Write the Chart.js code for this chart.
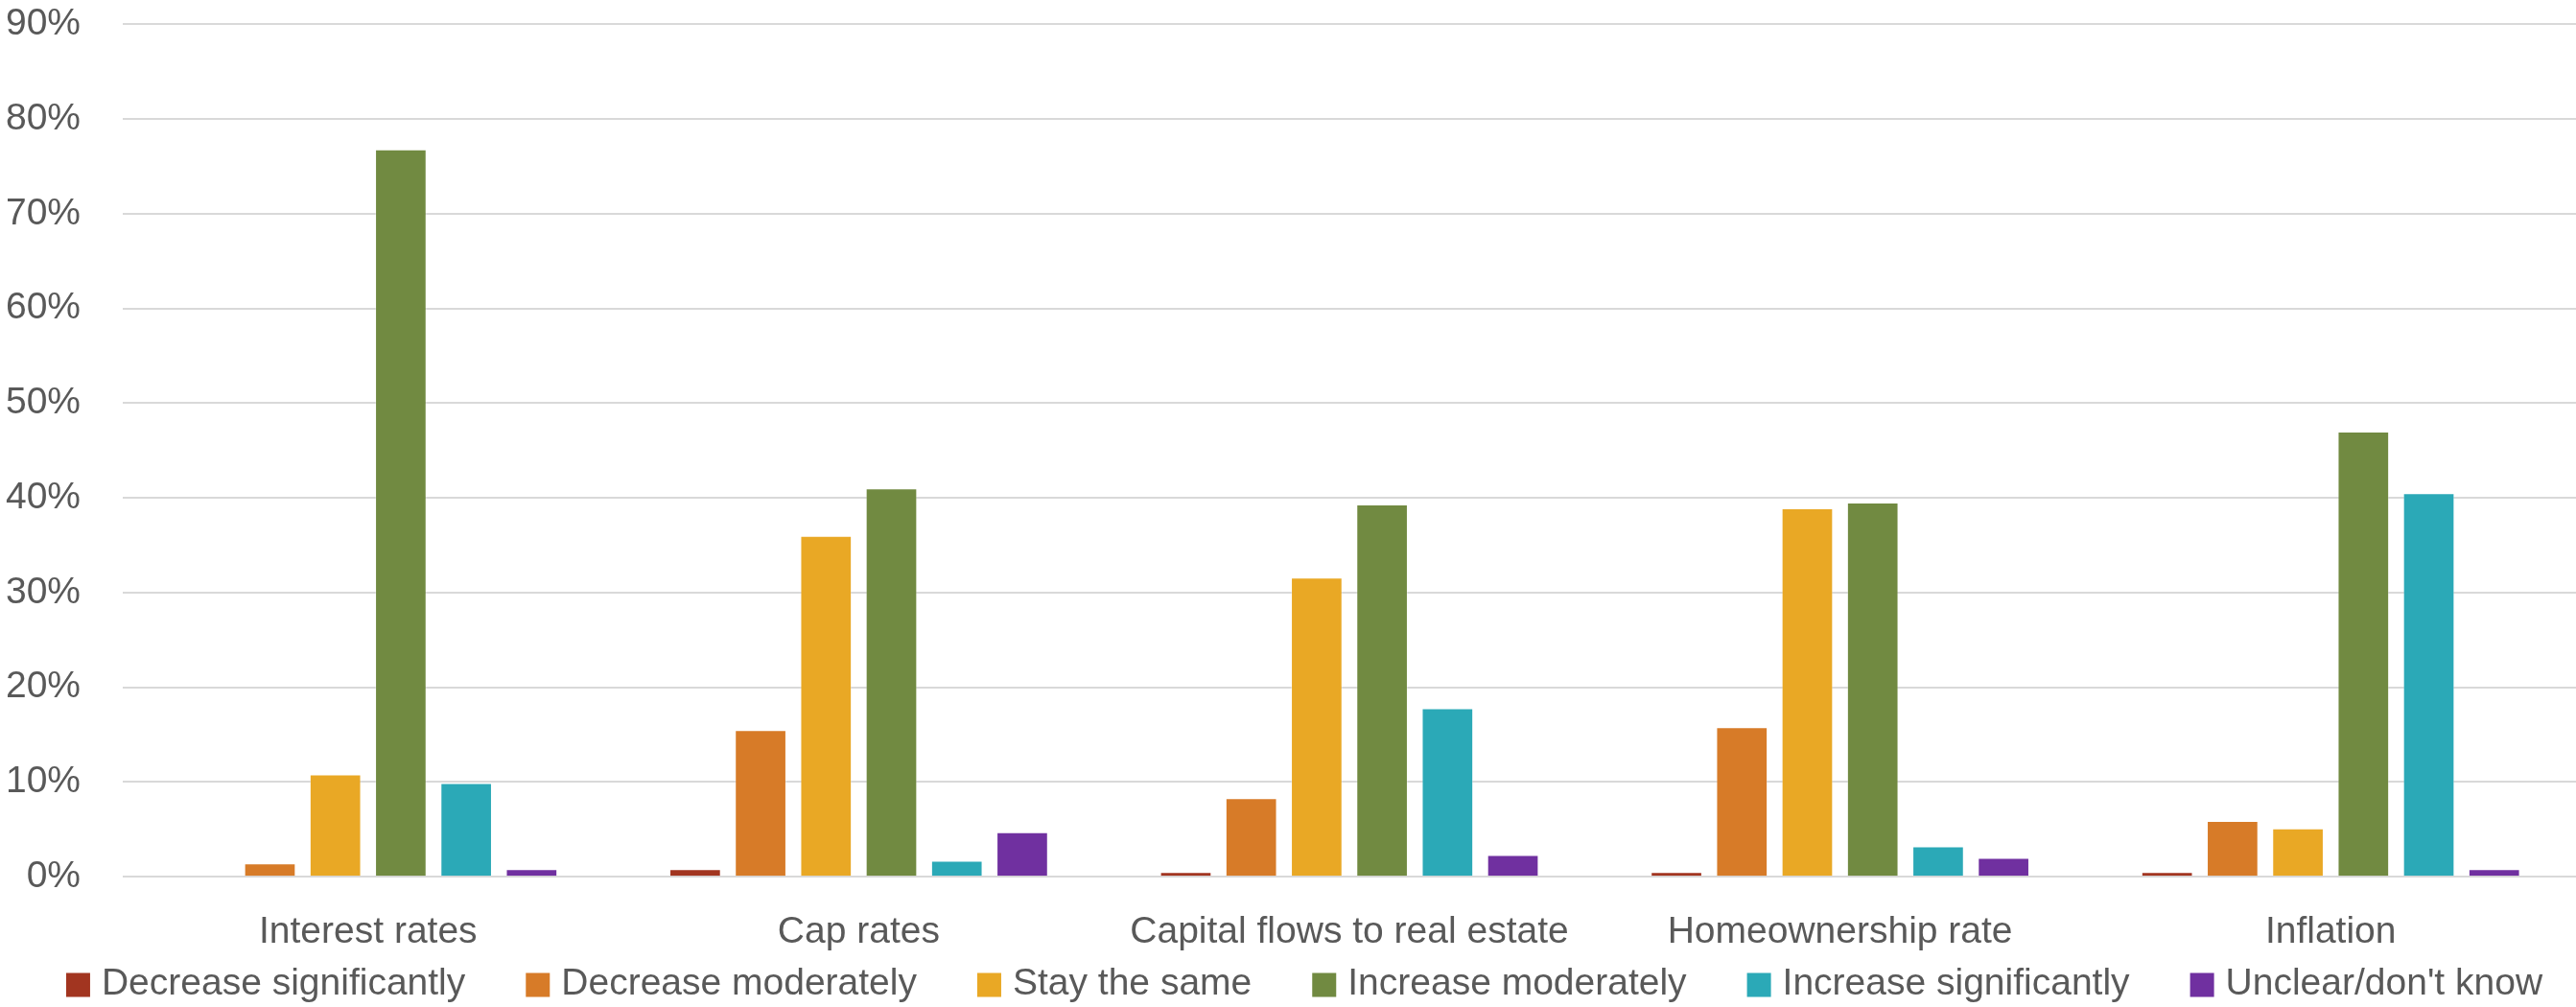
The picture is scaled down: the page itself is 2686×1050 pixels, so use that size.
<!DOCTYPE html>
<html>
<head>
<meta charset="utf-8">
<title>Expectations survey</title>
<script src="https://cdn.jsdelivr.net/npm/chart.js@4.4.1/dist/chart.umd.min.js"></script>
<style>
  html, body { margin: 0; padding: 0; background: #ffffff; }
  #wrap { position: relative; width: 2686px; height: 1050px; }
</style>
</head>
<body>
<div id="wrap"><canvas id="surveyChart"></canvas></div>
<script>
// Categories along the x axis
const categories = ['Interest rates', 'Cap rates', 'Capital flows to real estate', 'Homeownership rate', 'Inflation'];

// Share of respondents (%) for each answer, one value per category
const decreaseSignificantly = [0, 0.8, 0.5, 0.5, 0.5];
const decreaseModerately = [1.4, 15.5, 8.3, 15.8, 5.9];
const stayTheSame = [10.8, 36.0, 31.6, 38.9, 5.1];
const increaseModerately = [76.8, 41.0, 39.3, 39.5, 47.0];
const increaseSignificantly = [9.9, 1.7, 17.8, 3.2, 40.5];
const unclearDontKnow = [0.8, 4.7, 2.3, 2.0, 0.8];

// Y axis range and step (percent)
const yMax = 90;
const yStep = 10;

const textColor = '#595959';
const gridColor = '#d9d9d9';
const fontFamily = 'Liberation Sans, Arial, sans-serif';

function series(label, values, color) {
    return {
        label: label,
        data: values,
        backgroundColor: color,
        borderColor: 'rgba(255, 255, 255, 0.35)',
        borderWidth: 1,
        categoryPercentage: 0.8,
        barPercentage: 0.787
    };
}

// Single-row legend under the category labels: square swatch, text, fixed spacing
const rowLegend = {
    id: 'rowLegend',
    afterDraw(chart, args, opts) {
        const ctx = chart.ctx;
        ctx.save();
        ctx.font = opts.fontSize + 'px ' + fontFamily;
        ctx.textBaseline = 'middle';
        ctx.textAlign = 'left';

        const items = chart.data.datasets.map(ds => ({
            text: ds.label,
            color: ds.backgroundColor,
            width: ctx.measureText(ds.label).width
        }));
        let total = 0;
        items.forEach(it => { total += opts.box + opts.gap + it.width; });
        total += opts.spacing * (items.length - 1);

        let x = opts.centerX - total / 2;
        const y = chart.height - opts.bottom;
        items.forEach(it => {
            ctx.fillStyle = it.color;
            ctx.fillRect(x, y - opts.box / 2, opts.box, opts.box);
            ctx.fillStyle = textColor;
            ctx.fillText(it.text, x + opts.box + opts.gap, y - 1);
            x += opts.box + opts.gap + it.width + opts.spacing;
        });
        ctx.restore();
    }
};

document.addEventListener('DOMContentLoaded', () => {
    const ctx = document.getElementById('surveyChart').getContext('2d');

    new Chart(ctx, {
        type: 'bar',
        data: {
            labels: categories,
            datasets: [
                series('Decrease significantly', decreaseSignificantly, '#a23520'),
                series('Decrease moderately', decreaseModerately, '#d77b28'),
                series('Stay the same', stayTheSame, '#e9a825'),
                series('Increase moderately', increaseModerately, '#718a41'),
                series('Increase significantly', increaseSignificantly, '#2ba9b7'),
                series("Unclear/don't know", unclearDontKnow, '#7030a0')
            ]
        },
        plugins: [rowLegend],
        options: {
            responsive: true,
            maintainAspectRatio: false,
            animation: false,
            devicePixelRatio: 1,
            layout: {
                // bottom space is kept free for the row legend
                padding: { top: 25.4, right: 0, bottom: 20.2, left: 0 }
            },
            plugins: {
                tooltip: { enabled: false },
                legend: { display: false },
                rowLegend: {
                    fontSize: 39,
                    box: 25,
                    gap: 12,
                    spacing: 63,
                    centerX: 1360,
                    bottom: 23
                }
            },
            scales: {
                x: {
                    grid: { display: false, drawTicks: false },
                    border: { display: false },
                    ticks: {
                        color: textColor,
                        font: { family: fontFamily, size: 39 },
                        padding: 34.4,
                        maxRotation: 0,
                        autoSkip: false
                    }
                },
                y: {
                    min: 0,
                    max: yMax,
                    grid: { color: gridColor, lineWidth: 2, drawTicks: false },
                    border: { display: false },
                    ticks: {
                        stepSize: yStep,
                        color: textColor,
                        font: { family: fontFamily, size: 39, lineHeight: 1 },
                        padding: 44,
                        callback: (value) => value + '%'
                    },
                    afterFit: (scale) => {
                        scale.width = 128;
                        // end tick labels may overhang the plot; no extra margins needed
                        scale.paddingTop = 0;
                        scale.paddingBottom = 0;
                    }
                }
            }
        }
    });
});
</script>
</body>
</html>
